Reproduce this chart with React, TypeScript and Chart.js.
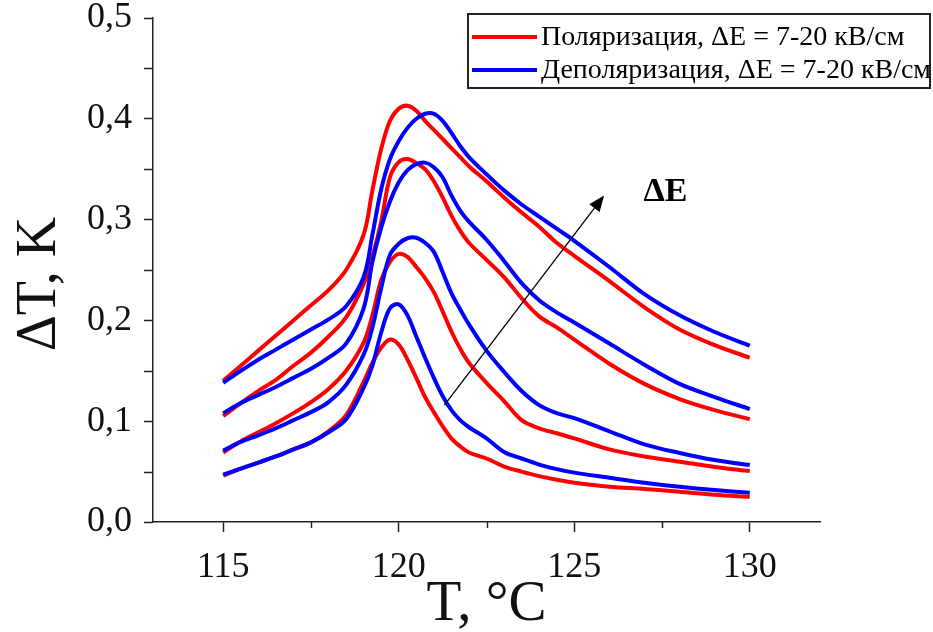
import React, { useEffect, useRef } from 'react';
import { Chart, registerables } from 'chart.js';

Chart.register(...registerables);

// Temperature grid, °C
const temperature = [
  115, 115.5, 116, 116.5, 117, 117.5, 118, 118.5, 119, 119.25, 119.5, 119.75,
  120, 120.25, 120.5, 120.75, 121, 121.25, 121.5, 121.75, 122, 122.5, 123,
  123.5, 124, 124.5, 125, 126, 127, 128, 129, 130,
];

// Polarization (red), lowest to highest field
const polarization1 = [
  0.046, 0.053, 0.059, 0.065, 0.072, 0.079, 0.09, 0.106, 0.139, 0.158, 0.173, 0.181,
  0.176, 0.161, 0.143, 0.124, 0.109, 0.095, 0.083, 0.075, 0.069, 0.063, 0.055,
  0.05, 0.0455, 0.042, 0.039, 0.035, 0.0328, 0.03, 0.027, 0.025,
];
const polarization2 = [
  0.069, 0.08, 0.089, 0.098, 0.108, 0.119, 0.132, 0.15, 0.178, 0.205, 0.24, 0.258,
  0.266, 0.263, 0.253, 0.242, 0.228, 0.209, 0.189, 0.172, 0.158, 0.138, 0.12,
  0.101, 0.093, 0.088, 0.083, 0.072, 0.065, 0.0598, 0.0546, 0.0506,
];
const polarization3 = [
  0.105, 0.118, 0.13, 0.141, 0.155, 0.168, 0.184, 0.203, 0.236, 0.263, 0.298, 0.342,
  0.357, 0.36, 0.356, 0.35, 0.338, 0.322, 0.304, 0.289, 0.277, 0.26, 0.243,
  0.222, 0.204, 0.193, 0.181, 0.157, 0.137, 0.122, 0.111, 0.102,
];
const polarization4 = [
  0.14, 0.155, 0.17, 0.185, 0.2, 0.215, 0.23, 0.25, 0.285, 0.329, 0.37, 0.398,
  0.41, 0.413, 0.408, 0.398, 0.389, 0.38, 0.371, 0.362, 0.353, 0.338, 0.322,
  0.307, 0.293, 0.277, 0.264, 0.239, 0.213, 0.191, 0.1755, 0.163,
];

// Depolarization (blue), lowest to highest field
const depolarization1 = [
  0.047, 0.053, 0.059, 0.065, 0.072, 0.079, 0.089, 0.102, 0.133, 0.155, 0.188, 0.212,
  0.216, 0.205, 0.184, 0.163, 0.143, 0.125, 0.111, 0.101, 0.094, 0.083, 0.0695,
  0.063, 0.057, 0.0525, 0.049, 0.044, 0.039, 0.035, 0.0317, 0.029,
];
const depolarization2 = [
  0.071, 0.0795, 0.086, 0.093, 0.101, 0.109, 0.119, 0.136, 0.166, 0.193, 0.232, 0.265,
  0.276, 0.2815, 0.282, 0.277, 0.268, 0.248, 0.227, 0.211, 0.196, 0.17, 0.149,
  0.13, 0.116, 0.108, 0.103, 0.09, 0.077, 0.0685, 0.0615, 0.0565,
];
const depolarization3 = [
  0.108, 0.118, 0.126, 0.134, 0.143, 0.152, 0.163, 0.177, 0.212, 0.258, 0.292, 0.318,
  0.337, 0.349, 0.355, 0.3565, 0.352, 0.342, 0.324, 0.309, 0.298, 0.28, 0.259,
  0.237, 0.22, 0.208, 0.198, 0.177, 0.156, 0.137, 0.124, 0.112,
];
const depolarization4 = [
  0.138, 0.15, 0.161, 0.171, 0.181, 0.191, 0.201, 0.214, 0.243, 0.285, 0.33, 0.36,
  0.378, 0.391, 0.4, 0.405, 0.405, 0.398, 0.386, 0.373, 0.362, 0.345, 0.329,
  0.315, 0.303, 0.291, 0.279, 0.253, 0.226, 0.205, 0.1885, 0.175,
];

const xMajorTicks = [115, 120, 125, 130];
const xMinorTicks = [117.5, 122.5, 127.5];
const yMajorTicks = [0, 0.1, 0.2, 0.3, 0.4, 0.5];
const yMinorTicks = [0.05, 0.15, 0.25, 0.35, 0.45];

const legendLabels = ['Поляризация, ΔE = 7-20 кВ/см', 'Деполяризация, ΔE = 7-20 кВ/см'];
const xTitle = 'T, °C';
const yTitle = 'ΔT, K';
const arrowLabel = 'ΔE';
// arrow in data units: [T, ΔT]
const arrowFrom = [121.3, 0.116];
const arrowTo = [125.85, 0.324];
const arrowLabelAt = [127.6, 0.327];

const RED = '#ff0000';
const BLUE = '#0000ff';
const AXIS = '#222222';
const SERIF = '"Liberation Serif", "Times New Roman", serif';

const toPoints = (vals: number[]) => temperature.map((t, i) => ({ x: t, y: vals[i] }));

const overlayPlugin = {
  id: 'overlay',
  afterDraw(chart: any) {
    const ctx = chart.ctx as CanvasRenderingContext2D;
    const xs = chart.scales.x;
    const ys = chart.scales.y;
    const area = chart.chartArea;
    ctx.save();
    // minor ticks
    ctx.strokeStyle = AXIS;
    ctx.lineWidth = 1.5;
    xMinorTicks.forEach((v) => {
      const px = Math.round(xs.getPixelForValue(v)) + 0.5;
      ctx.beginPath();
      ctx.moveTo(px, area.bottom);
      ctx.lineTo(px, area.bottom + 6);
      ctx.stroke();
    });
    yMinorTicks.forEach((v) => {
      const py = Math.round(ys.getPixelForValue(v)) + 0.5;
      ctx.beginPath();
      ctx.moveTo(area.left - 9, py);
      ctx.lineTo(area.left, py);
      ctx.stroke();
    });

    // y title
    ctx.save();
    ctx.translate(40, (area.top + area.bottom) / 2 + 14);
    ctx.rotate(-Math.PI / 2);
    ctx.font = `56px ${SERIF}`;
    ctx.fillStyle = '#111';
    ctx.textAlign = 'center';
    ctx.textBaseline = 'middle';
    ctx.fillText(yTitle, 0, 0);
    ctx.restore();

    // arrow
    const x1 = xs.getPixelForValue(arrowFrom[0]);
    const y1 = ys.getPixelForValue(arrowFrom[1]);
    const x2 = xs.getPixelForValue(arrowTo[0]);
    const y2 = ys.getPixelForValue(arrowTo[1]);
    const ang = Math.atan2(y2 - y1, x2 - x1);
    const headLen = 16;
    const headW = 6.5;
    const bx = x2 - headLen * Math.cos(ang);
    const by = y2 - headLen * Math.sin(ang);
    ctx.strokeStyle = '#000';
    ctx.lineWidth = 1.3;
    ctx.beginPath();
    ctx.moveTo(x1, y1);
    ctx.lineTo(bx, by);
    ctx.stroke();
    ctx.fillStyle = '#000';
    ctx.beginPath();
    ctx.moveTo(x2, y2);
    ctx.lineTo(bx + headW * Math.sin(ang), by - headW * Math.cos(ang));
    ctx.lineTo(bx - headW * Math.sin(ang), by + headW * Math.cos(ang));
    ctx.closePath();
    ctx.fill();

    ctx.font = `bold 34px ${SERIF}`;
    ctx.textAlign = 'center';
    ctx.textBaseline = 'middle';
    ctx.fillText(arrowLabel, xs.getPixelForValue(arrowLabelAt[0]), ys.getPixelForValue(arrowLabelAt[1]));

    // legend box
    const bxL = 468;
    const byT = 14;
    const bw = 462;
    const bh = 74;
    ctx.fillStyle = '#ffffff';
    ctx.fillRect(bxL, byT, bw, bh);
    ctx.strokeStyle = '#222';
    ctx.lineWidth = 2;
    ctx.strokeRect(bxL, byT, bw, bh);
    const colors = [RED, BLUE];
    const rows = [byT + 23, byT + 56];
    ctx.font = `28px ${SERIF}`;
    ctx.textAlign = 'left';
    ctx.textBaseline = 'middle';
    legendLabels.forEach((lab, i) => {
      ctx.strokeStyle = colors[i];
      ctx.lineWidth = 4;
      ctx.beginPath();
      ctx.moveTo(bxL + 4, rows[i]);
      ctx.lineTo(bxL + 69, rows[i]);
      ctx.stroke();
      ctx.fillStyle = '#000';
      ctx.fillText(lab, bxL + 73, rows[i] + 1);
    });
    ctx.restore();
  },
};

export default function App() {
  const ref = useRef<HTMLCanvasElement | null>(null);

  useEffect(() => {
    document.body.style.margin = '0';
    const canvas = ref.current;
    if (!canvas) return;
    const reds = [polarization1, polarization2, polarization3, polarization4];
    const blues = [depolarization1, depolarization2, depolarization3, depolarization4];
    const datasets: any[] = [];
    reds.forEach((vals, i) =>
      datasets.push({
        label: `${legendLabels[0]} ${i + 1}`,
        data: toPoints(vals),
        borderColor: RED,
        borderWidth: 4,
        pointRadius: 0,
        tension: 0.35,
        fill: false,
        order: 2,
      })
    );
    blues.forEach((vals, i) =>
      datasets.push({
        label: `${legendLabels[1]} ${i + 1}`,
        data: toPoints(vals),
        borderColor: BLUE,
        borderWidth: 4,
        pointRadius: 0,
        tension: 0.35,
        fill: false,
        order: 1,
      })
    );

    const chart = new Chart(canvas, {
      type: 'line',
      data: { datasets },
      options: {
        responsive: false,
        animation: false,
        layout: { padding: { top: 18, right: 113, left: 0, bottom: 0 } },
        plugins: { legend: { display: false }, tooltip: { enabled: false } },
        scales: {
          x: {
            type: 'linear',
            min: 113,
            max: 132,
            afterBuildTicks: (s: any) => {
              s.ticks = xMajorTicks.map((v) => ({ value: v }));
            },
            afterFit: (s: any) => {
              s.height = 110;
              s.paddingLeft = 0;
              s.paddingRight = 0;
            },
            border: { display: true, color: AXIS, width: 1.5 },
            grid: { drawOnChartArea: false, drawTicks: true, tickLength: 10, tickColor: AXIS, tickWidth: 1.5 },
            ticks: {
              color: '#111',
              font: { family: SERIF, size: 36 },
              padding: 14,
              maxRotation: 0,
              callback: (v: any) => String(v),
            },
            title: {
              display: true,
              text: xTitle,
              color: '#111',
              font: { family: SERIF, size: 57, lineHeight: 1.0 },
              padding: { top: 0, bottom: -2 },
            },
          },
          y: {
            type: 'linear',
            min: 0,
            max: 0.5,
            afterBuildTicks: (s: any) => {
              s.ticks = yMajorTicks.map((v) => ({ value: v }));
            },
            afterFit: (s: any) => {
              s.width = 153;
              s.paddingTop = 0;
              s.paddingBottom = 0;
            },
            border: { display: true, color: AXIS, width: 1.5 },
            grid: { drawOnChartArea: false, drawTicks: true, tickLength: 9, tickColor: AXIS, tickWidth: 1.5 },
            ticks: {
              color: '#111',
              font: { family: SERIF, size: 36 },
              padding: 12,
              callback: (v: any) => Number(v).toFixed(1).replace('.', ','),
            },
            title: { display: false },
          },
        },
      },
      plugins: [overlayPlugin],
    });
    return () => chart.destroy();
  }, []);

  return <canvas ref={ref} width={933} height={632} style={{ display: 'block' }} />;
}
